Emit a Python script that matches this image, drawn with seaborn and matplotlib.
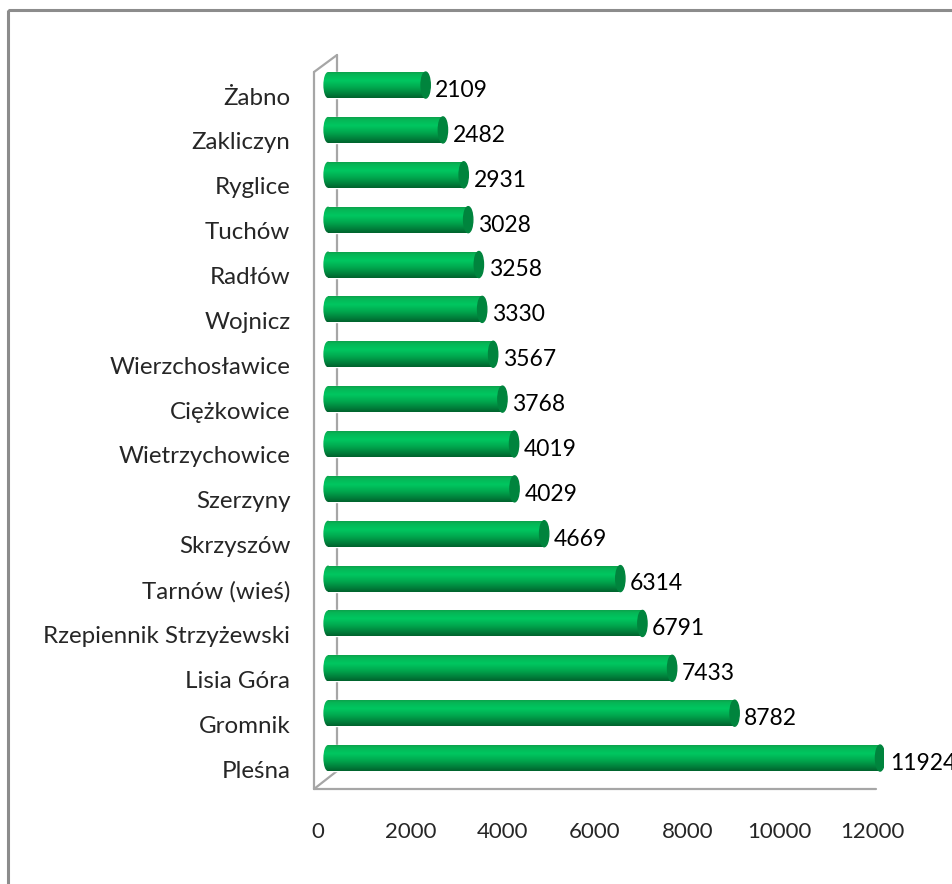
import numpy as np
import matplotlib
matplotlib.use("Agg")
import matplotlib.pyplot as plt
import matplotlib.transforms as mtransforms
import seaborn as sns
import pandas as pd
from matplotlib.colors import LinearSegmentedColormap
from matplotlib.patches import Ellipse, Rectangle

names = ['Żabno', 'Zakliczyn', 'Ryglice', 'Tuchów', 'Radłów', 'Wojnicz',
         'Wierzchosławice', 'Ciężkowice', 'Wietrzychowice', 'Szerzyny',
         'Skrzyszów', 'Tarnów (wieś)', 'Rzepiennik Strzyżewski', 'Lisia Góra',
         'Gromnik', 'Pleśna']
values = [2109, 2482, 2931, 3028, 3258, 3330, 3567, 3768, 4019, 4029,
          4669, 6314, 6791, 7433, 8782, 11924]
ticks = [0, 2000, 4000, 6000, 8000, 10000, 12000]

df = pd.DataFrame({'name': names, 'value': values})

sns.set_style("white")
plt.rcParams['font.family'] = ['Lato', 'DejaVu Sans']

W, H = 953, 884
fig = plt.figure(figsize=(W / 100, H / 100), dpi=100)

# background layer in pixel coordinates: outer frame and 3D walls
bg = fig.add_axes([0, 0, 1, 1], zorder=-1)
bg.set_xlim(0, W)
bg.set_ylim(H, 0)
bg.axis('off')
bg.add_patch(Rectangle((8, 10), 980, 900, fill=False, ec='#8c8c8c', lw=2.2))
wall = dict(color='#a6a6a6', lw=1.6)
bg.plot([314, 314], [72, 789], **wall)
bg.plot([314, 337], [72, 55], **wall)
bg.plot([337, 337], [55, 771], **wall)
bg.plot([314, 337], [789, 771], **wall)
bg.plot([314, 876], [789, 789], **wall)

# bars sit on the back plane (0 at x=328), tick labels on the front plane
x0, k = 328, 0.0463
xmin = -300
left = x0 + xmin * k
ax = fig.add_axes([left / W, 1 - 789 / H, k * (12000 - xmin) / W, (789 - 55) / H])
ax.set_facecolor('none')

bar_h = 0.58
sns.barplot(data=df, x='value', y='name', orient='h', color='#00b050',
            width=bar_h, ax=ax, saturation=1)

grad = LinearSegmentedColormap.from_list(
    'cyl', [(0.0, '#0f9a47'), (0.12, '#06b556'), (0.35, '#00c760'),
            (0.6, '#00a94f'), (0.85, '#007f3b'), (1.0, '#00622d')])
g = np.linspace(0, 1, 64).reshape(-1, 1)
cap_w = 200

for i, (p, v) in enumerate(zip(ax.patches[:len(values)], values)):
    y0 = i - bar_h / 2
    y1 = i + bar_h / 2
    im = ax.imshow(g, cmap=grad, aspect='auto', extent=(0, v, y1, y0),
                   interpolation='bicubic', zorder=2)
    im.set_clip_path(p)
    # rounded left end with the same shading
    lcap = Ellipse((0, i), cap_w, bar_h, fc='none', ec='none')
    ax.add_patch(lcap)
    im2 = ax.imshow(g, cmap=grad, aspect='auto',
                    extent=(-cap_w / 2, cap_w / 4, y1, y0),
                    interpolation='bicubic', zorder=2)
    im2.set_clip_path(lcap)
    ax.add_patch(Ellipse((v, i), cap_w, bar_h, color='#00843d', zorder=2.1))
    ax.text(v + 210, i + 0.12, str(v), va='center', ha='left',
            fontsize=16.5, color='black', clip_on=False)

ax.set_xlim(xmin, 12000)
ax.set_ylim(15.69, -0.67)
ax.set_xticks([])
ax.tick_params(axis='y', length=0, pad=17, labelsize=17.4)
ax.set_xlabel('')
ax.set_ylabel('')
for s in ax.spines.values():
    s.set_visible(False)

# category labels drawn a little lower (front plane)
shift = mtransforms.ScaledTranslation(0, -11 / 100, fig.dpi_scale_trans)
for lab in ax.get_yticklabels():
    lab.set_transform(lab.get_transform() + shift)

# front-plane value axis: 0 at x=318, 12000 at x=872
kf = (872 - 318) / 12000
a = (x0 - 318) / kf
b = k / kf
sec = ax.secondary_xaxis('bottom', functions=(lambda x: a + b * x,
                                              lambda t: (t - a) / b))
sec.set_xticks(ticks)
sec.set_xticklabels([str(t) for t in ticks], fontsize=16)
sec.tick_params(length=0, pad=24)
sec.spines['bottom'].set_visible(False)

fig.savefig('out.png', dpi=100)
